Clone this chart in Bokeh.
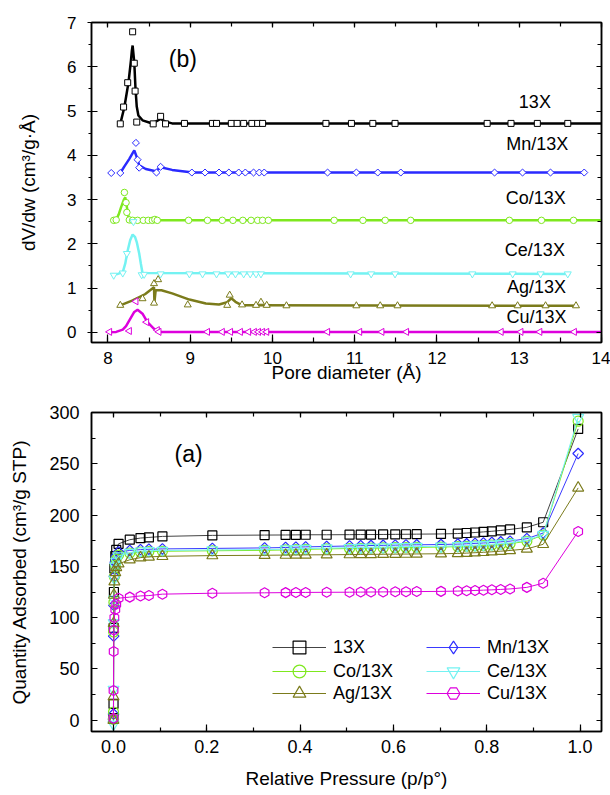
import numpy as np
from bokeh.plotting import figure
from bokeh.layouts import column
from bokeh.models import (LinearAxis, SingleIntervalTicker, Label, Legend, LegendItem,
                          PrintfTickFormatter, Range1d, Title)
from bokeh.embed import file_html
from bokeh.resources import INLINE

FONT = "Liberation Sans"

# ---------------- panel (b): pore size distribution ----------------
b_labels = ["13X", "Mn/13X", "Co/13X", "Ce/13X", "Ag/13X", "Cu/13X"]

b13_x = [8.15, 8.19, 8.24, 8.30, 8.32, 8.33, 8.35, 8.55, 8.64, 8.70, 8.93, 9.27, 9.32, 9.50, 9.57, 9.65,
         9.75, 9.82, 9.88, 10.65, 10.96, 11.22, 11.49, 12.61, 12.90, 13.22, 13.59]
b13_y = [4.71, 5.09, 5.64, 6.79, 6.08, 5.45, 4.75, 4.71, 4.88, 4.71, 4.72, 4.72, 4.72, 4.72, 4.72, 4.72,
         4.72, 4.72, 4.72, 4.72, 4.72, 4.72, 4.72, 4.72, 4.72, 4.72, 4.72]
b13_cx = [8.15, 8.20, 8.25, 8.28, 8.29, 8.30, 8.32, 8.335, 8.35, 8.37, 8.42, 8.52, 8.58, 8.64, 8.70, 8.78, 14.0]
b13_cy = [4.71, 5.09, 5.65, 6.15, 6.35, 6.48, 6.10, 5.50, 5.10, 4.90, 4.79, 4.73, 4.76, 4.82, 4.76, 4.72, 4.72]

bMn_x = [8.04, 8.15, 8.34, 8.36, 8.38, 8.59, 8.64, 9.02, 9.18, 9.35, 9.47, 9.59, 9.67, 9.77, 9.84, 9.90,
         10.67, 11.02, 11.28, 11.56, 12.70, 13.04, 13.38, 13.79]
bMn_y = [3.60, 3.60, 4.28, 3.90, 3.72, 3.61, 3.74, 3.61, 3.61, 3.61, 3.61, 3.61, 3.61, 3.61, 3.61, 3.61,
         3.61, 3.61, 3.61, 3.61, 3.61, 3.61, 3.61, 3.61]
bMn_cx = [8.15, 8.20, 8.26, 8.30, 8.32, 8.35, 8.38, 8.46, 8.58, 8.64, 8.78, 9.03, 13.79]
bMn_cy = [3.60, 3.75, 3.92, 4.05, 4.11, 3.96, 3.77, 3.69, 3.64, 3.73, 3.67, 3.61, 3.61]

bCo_x = [8.07, 8.10, 8.20, 8.22, 8.23, 8.26, 8.30, 8.36, 8.43, 8.49, 8.54, 8.57, 8.60, 8.98, 9.21, 9.39,
         9.52, 9.64, 9.74, 9.82, 9.88, 9.95, 10.75, 11.10, 11.37, 11.68, 12.88, 13.27, 13.66]
bCo_y = [2.53, 2.54, 3.16, 2.93, 2.71, 2.54, 2.53, 2.53, 2.53, 2.53, 2.53, 2.55, 2.53, 2.53, 2.53, 2.53,
         2.53, 2.53, 2.53, 2.53, 2.53, 2.53, 2.53, 2.53, 2.53, 2.53, 2.53, 2.53, 2.53]
bCo_cx = [8.10, 8.13, 8.16, 8.19, 8.21, 8.23, 8.25, 8.29, 14.0]
bCo_cy = [2.54, 2.66, 2.83, 2.98, 3.05, 2.83, 2.60, 2.53, 2.53]

bCe_x = [8.07, 8.18, 8.23, 8.31, 8.41, 8.44, 8.64, 8.99, 9.15, 9.32, 9.46, 9.55, 9.65, 9.73, 9.80, 9.86,
         10.95, 11.20, 11.49, 12.43, 12.92, 13.26, 13.59]
bCe_y = [1.29, 1.34, 1.78, 2.50, 1.30, 1.31, 1.32, 1.32, 1.32, 1.32, 1.32, 1.32, 1.32, 1.32, 1.32, 1.32,
         1.32, 1.32, 1.32, 1.32, 1.32, 1.32, 1.32]
bCe_cx = [8.05, 8.12, 8.18, 8.21, 8.24, 8.27, 8.30, 8.33, 8.35, 8.38, 8.40, 8.42, 13.62]
bCe_cy = [1.31, 1.32, 1.36, 1.55, 1.85, 2.08, 2.21, 2.15, 2.04, 1.78, 1.55, 1.34, 1.32]

bAg_x = [8.15, 8.42, 8.56, 8.61, 8.56, 8.97, 9.45, 9.48, 9.63, 9.80, 9.86, 9.93, 10.17, 11.02, 11.31,
         11.52, 12.67, 12.98, 13.32, 13.69]
bAg_y = [0.61, 0.76, 1.10, 1.19, 0.66, 0.62, 0.61, 0.84, 0.62, 0.61, 0.68, 0.61, 0.60, 0.60, 0.60,
         0.60, 0.60, 0.60, 0.60, 0.60]
bAg_cx = [8.15, 8.30, 8.45, 8.56, 8.565, 8.58, 8.65, 8.78, 8.99, 9.19, 9.35, 9.45, 9.50, 9.55, 9.63, 13.71]
bAg_cy = [0.61, 0.72, 0.86, 1.02, 0.68, 0.95, 0.95, 0.88, 0.74, 0.65, 0.63, 0.68, 0.77, 0.69, 0.61, 0.60]

bCu_x = [8.02, 8.26, 8.34, 8.47, 8.60, 8.62, 9.21, 9.39, 9.49, 9.61, 9.71, 9.78, 9.83, 9.88, 9.93,
         10.67, 11.06, 11.33, 11.63, 12.78, 13.02, 13.25, 13.67]
bCu_y = [0.01, 0.03, 0.70, 0.23, 0.05, 0.01, 0.01, 0.01, 0.01, 0.01, 0.01, 0.01, 0.01, 0.01, 0.01,
         0.01, 0.01, 0.01, 0.01, 0.01, 0.01, 0.01, 0.01]
bCu_cx = [8.00, 8.10, 8.18, 8.22, 8.26, 8.32, 8.36, 8.42, 8.48, 8.56, 8.62, 14.0]
bCu_cy = [0.00, 0.01, 0.06, 0.14, 0.27, 0.46, 0.51, 0.42, 0.23, 0.08, 0.01, 0.01]

# label positions (data units) for the curve names in panel (b)
b_label_x = [13.19, 13.22, 13.20, 13.19, 13.21, 13.21]
b_label_y = [5.20, 4.26, 3.04, 1.85, 1.02, 0.35]

# ---------------- panel (a): N2 isotherms ----------------
a_p = [0.0, 0.0002, 0.0005, 0.001, 0.002, 0.004, 0.006, 0.011, 0.035, 0.058, 0.076, 0.105, 0.212, 0.324,
       0.369, 0.391, 0.412, 0.457, 0.506, 0.530, 0.552, 0.578, 0.604, 0.627, 0.650, 0.702, 0.738, 0.757,
       0.775, 0.793, 0.811, 0.830, 0.850, 0.886, 0.921, 0.996]
a13_q = [2, 16, 90, 125, 148, 160, 166, 172, 176, 177.6, 178.2, 179.2, 180.2, 180.5, 180.6, 180.7, 180.8,
         180.8, 180.9, 181.0, 181.0, 181.1, 181.2, 181.3, 181.4, 181.6, 182.0, 182.5, 183.0, 183.6, 184.2,
         185.0, 186.0, 188.0, 193.0, 284.0]
aMn_q = [1, 6, 82, 112, 140, 154, 160, 164, 165.5, 166.3, 166.7, 167.0, 167.5, 168.0, 168.4, 168.7, 169.0,
         169.4, 169.9, 170.1, 170.3, 170.5, 170.7, 170.9, 171.0, 171.3, 171.7, 172.0, 172.4, 172.8, 173.3,
         173.9, 174.6, 177.0, 182.5, 260.0]
aCo_q = [1, 8, 86, 115, 140, 151, 157, 161, 163, 164, 164.4, 164.7, 165.2, 165.6, 166, 166.3, 166.6,
         167, 167.4, 167.6, 167.8, 168, 168.2, 168.4, 168.5, 168.8, 169.2, 169.5, 169.9, 170.3, 170.8,
         171.4, 172.1, 174.5, 180.5, 291.5]
aCe_q = [-4, 30, 95, 118, 138, 150, 155, 160, 163.5, 164.8, 165.2, 165.5, 166.0, 166.4, 166.8, 167.1,
         167.4, 167.8, 168.2, 168.4, 168.6, 168.8, 169.0, 169.2, 169.3, 169.6, 170.0, 170.3, 170.7, 171.1,
         171.6, 172.2, 172.9, 175.3, 181.0, 295.0]
aAg_q = [0, 23, 94.5, 122, 135, 144, 149, 152.5, 156.4, 158.5, 159.2, 159.8, 160.5, 160.8, 161.0, 161.1,
         161.2, 161.3, 161.5, 161.6, 161.7, 161.8, 161.9, 162.0, 162.1, 162.3, 162.6, 162.9, 163.3, 163.7,
         164.2, 164.8, 165.5, 167.0, 171.5, 226.5]
aCu_q = [2, 29, 67, 88, 100, 108, 113, 119, 120, 121.2, 121.5, 122.9, 123.8, 124.2, 124.4, 124.5, 124.6,
         124.7, 124.8, 124.9, 125.0, 125.1, 125.2, 125.3, 125.4, 125.6, 125.9, 126.2, 126.5, 126.8, 127.1,
         127.5, 128.0, 129.5, 133.6, 184.0]

# ---------------- styles ----------------
COL_B = ["#000000", "#2a2aff", "#7ee81e", "#74f2f2", "#7b7b1b", "#dd00dd"]
COL_A_LINE = ["#444444", "#3a3aff", "#7ee81e", "#74f2f2", "#7b7b1b", "#dd00dd"]
COL_A_MARK = ["#000000", "#2a2aff", "#7ee81e", "#74f2f2", "#7b7b1b", "#dd00dd"]
MARKERS = ["square", "square", "circle", "inverted_triangle", "triangle", "triangle"]
ANGLES = [0.0, np.pi / 4, 0.0, 0.0, 0.0, np.pi / 2]
A_MARKERS = ["square", "square", "circle", "inverted_triangle", "triangle", "hex"]
A_ANGLES = [0.0, np.pi / 4, 0.0, 0.0, 0.0, np.pi / 2]


def style_axis(ax, size, tin, tout, mtin, mtout, show=True):
    ax.axis_line_color = "black"
    ax.axis_line_width = 1.5
    ax.major_tick_line_color = "black"
    ax.minor_tick_line_color = "black"
    ax.major_tick_line_width = 1.2
    ax.minor_tick_line_width = 1.2
    ax.major_tick_in = tin
    ax.major_tick_out = tout
    ax.minor_tick_in = mtin
    ax.minor_tick_out = mtout
    ax.major_label_text_font = FONT
    ax.major_label_text_color = "black"
    ax.axis_label_text_font = FONT
    ax.axis_label_text_font_style = "normal"
    ax.axis_label_text_color = "black"
    ax.axis_label_text_font_size = "19px"
    if show:
        ax.major_label_text_font_size = size
    else:
        ax.major_label_text_font_size = "1px"
        ax.major_label_text_color = None
        ax.major_label_standoff = 0


def base_fig(height, xr, yr, top, bottom):
    p = figure(width=610, height=height, x_range=Range1d(*xr), y_range=Range1d(*yr),
               output_backend="svg", toolbar_location=None,
               min_border_left=91, min_border_right=9, min_border_top=top, min_border_bottom=bottom)
    p.xgrid.visible = False
    p.ygrid.visible = False
    p.outline_line_color = "black"
    p.outline_line_width = 1.5
    p.background_fill_color = "white"
    p.border_fill_color = "white"
    return p


def ytitle(p, text, offset, gap, interval):
    # invisible spacer axis (no visible line, ticks or labels) between tick labels and the title
    spacer = LinearAxis(ticker=SingleIntervalTicker(interval=interval, num_minor_ticks=0),
                        major_tick_out=gap, major_tick_in=0, minor_tick_out=0, minor_tick_in=0,
                        axis_line_color=None, major_tick_line_color=None, minor_tick_line_color=None,
                        major_label_standoff=0, major_label_text_color=None,
                        major_label_text_font_size="1px")
    p.add_layout(spacer, "left")
    p.add_layout(Title(text=text, align="center", offset=offset, standoff=0,
                       text_font=FONT, text_font_size="19px", text_font_style="normal",
                       text_color="black"), "left")


# ---------------- figure (b) ----------------
p1 = base_fig(392, (7.8, 14.0), (-0.23, 7.0), 22, 50)
p1.xaxis.ticker = SingleIntervalTicker(interval=1, num_minor_ticks=2)
p1.yaxis.ticker = SingleIntervalTicker(interval=1, num_minor_ticks=2)
p1.xaxis.axis_label = "Pore diameter (Å)"
style_axis(p1.xaxis[0], "17px", 8, 0, 5, 0)
style_axis(p1.yaxis[0], "17px", 6, 4, 0, 3)
p1.xaxis.major_label_standoff = 9
p1.xaxis.axis_label_standoff = -5
p1.yaxis.major_label_standoff = 11
ax_top1 = LinearAxis(ticker=SingleIntervalTicker(interval=1, num_minor_ticks=2))
style_axis(ax_top1, "1px", 5, 0, 4, 0, show=False)
p1.add_layout(ax_top1, "above")
ax_r1 = LinearAxis(ticker=SingleIntervalTicker(interval=1, num_minor_ticks=2))
style_axis(ax_r1, "1px", 5, 0, 4, 0, show=False)
p1.add_layout(ax_r1, "right")
ytitle(p1, "dV/dw (cm³/g·Å)", 37, 26, 1)

b_series = [(b13_x, b13_y, b13_cx, b13_cy), (bMn_x, bMn_y, bMn_cx, bMn_cy), (bCo_x, bCo_y, bCo_cx, bCo_cy),
            (bCe_x, bCe_y, bCe_cx, bCe_cy), (bAg_x, bAg_y, bAg_cx, bAg_cy), (bCu_x, bCu_y, bCu_cx, bCu_cy)]
b_sizes = [6, 5, 6.5, 7, 7, 7]
for i, (mx, my, cx, cy) in enumerate(b_series):
    p1.line(cx, cy, line_color=COL_B[i], line_width=2.5)
    p1.scatter(mx, my, marker=MARKERS[i], angle=ANGLES[i], size=b_sizes[i], line_color=COL_B[i],
               fill_color="white", line_width=1)
    p1.add_layout(Label(x=b_label_x[i], y=b_label_y[i], text=b_labels[i], text_font=FONT,
                        text_font_size="18px", text_color="black", text_align="center",
                        text_baseline="middle"))
p1.add_layout(Label(x=8.91, y=6.18, text="(b)", text_font=FONT, text_font_size="23px",
                    text_color="black", text_align="center", text_baseline="middle"))

# ---------------- figure (a) ----------------
p2 = base_fig(403, (-0.047, 1.046), (-11, 300), 20, 64)
p2.xaxis.ticker = SingleIntervalTicker(interval=0.2, num_minor_ticks=2)
p2.yaxis.ticker = SingleIntervalTicker(interval=50, num_minor_ticks=2)
p2.xaxis.formatter = PrintfTickFormatter(format="%.1f")
p2.xaxis.axis_label = "Relative Pressure (p/p°)"
style_axis(p2.xaxis[0], "18px", 7, 0, 4, 0)
style_axis(p2.yaxis[0], "18px", 6, 0, 4, 0)
p2.xaxis.major_label_standoff = 8
p2.xaxis.axis_label_standoff = 12
p2.yaxis.major_label_standoff = 12
ax_top2 = LinearAxis(ticker=SingleIntervalTicker(interval=0.2, num_minor_ticks=2))
style_axis(ax_top2, "1px", 5, 0, 4, 0, show=False)
p2.add_layout(ax_top2, "above")
ax_r2 = LinearAxis(ticker=SingleIntervalTicker(interval=50, num_minor_ticks=2))
style_axis(ax_r2, "1px", 5, 0, 4, 0, show=False)
p2.add_layout(ax_r2, "right")
ytitle(p2, "Quantity Adsorbed (cm³/g STP)", 10, 17, 50)

a_series = [a13_q, aMn_q, aCo_q, aCe_q, aAg_q, aCu_q]
a_sizes = [9, 7.5, 10, 11, 11, 10]
items = []
for i, q in enumerate(a_series):
    lr = p2.line(a_p, q, line_color=COL_A_LINE[i], line_width=1)
    sr = p2.scatter(a_p, q, marker=A_MARKERS[i], angle=A_ANGLES[i], size=a_sizes[i],
                    line_color=COL_A_MARK[i], fill_color=None, line_width=1.2)
    legend_mark = sr
    if i == 1:
        # legend-only diamond glyph (legend glyphs are not rotated); NaN point draws nothing in the plot
        legend_mark = p2.scatter(x=np.array([np.nan]), y=np.array([np.nan]), marker="diamond", size=12,
                                 line_color=COL_A_MARK[i], fill_color=None, line_width=1.2)
    items.append(LegendItem(label=b_labels[i], renderers=[lr, legend_mark]))

p2.add_layout(Label(x=0.161, y=260, text="(a)", text_font=FONT, text_font_size="23px",
                    text_color="black", text_align="center", text_baseline="middle"))


def make_legend(item, loc):
    lg = Legend(items=[item], location=loc, orientation="vertical")
    lg.glyph_width = 54
    lg.glyph_height = 32
    lg.label_height = 20
    lg.spacing = 0
    lg.padding = 0
    lg.margin = 0
    lg.border_line_color = None
    lg.background_fill_alpha = 0
    lg.label_standoff = 7
    lg.label_text_font = FONT
    lg.label_text_font_size = "18px"
    lg.label_text_color = "black"
    lg.label_text_baseline = "middle"
    return lg


# legend: two columns x three rows, each entry placed on its own
legend_cols = [181, 335, 181, 335, 181, 335]
legend_rows = [68, 68, 44, 44, 22, 22]
for i in range(6):
    p2.add_layout(make_legend(items[i], (legend_cols[i], legend_rows[i])), "center")

layout = column(p1, p2, spacing=0)
open("out.html", "w").write(file_html(layout, INLINE))
